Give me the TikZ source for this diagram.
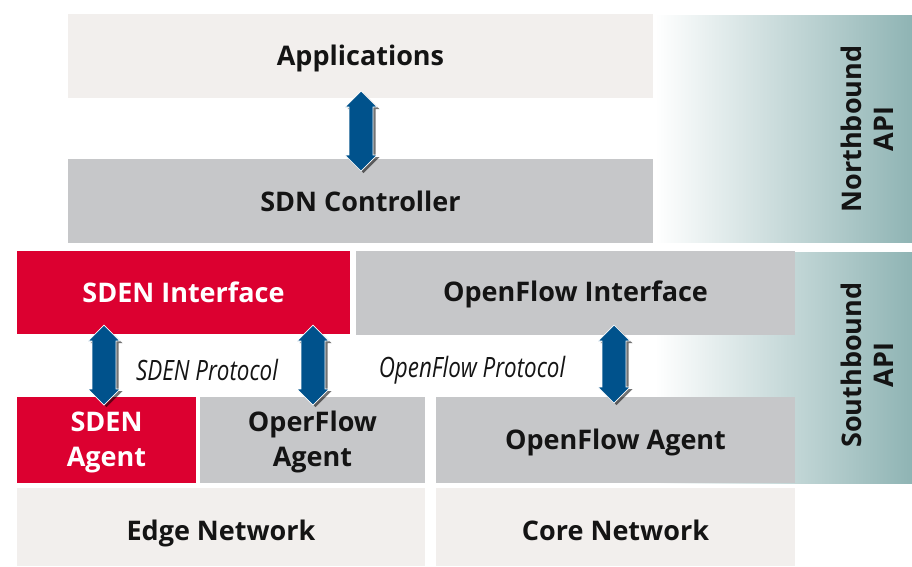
\documentclass[tikz,border=0pt]{standalone}
\usepackage{fontspec}
\setmainfont{Open Sans}
\usetikzlibrary{fit,shadows}

\definecolor{sdenred}{RGB}{220,0,48}
\definecolor{panelgray}{RGB}{198,199,201}
\definecolor{panellight}{RGB}{242,239,237}
\definecolor{apiteal}{RGB}{143,180,180}
\definecolor{arrowblue}{RGB}{0,82,140}
\definecolor{labelink}{RGB}{20,20,20}

\newcommand\layerfont{\fontsize{27}{35}\selectfont\bfseries}

\tikzset{
  layer/.style={inner sep=0pt, draw=none},
  graylayer/.style={layer, fill=panelgray},
  lightlayer/.style={layer, fill=panellight},
  redlayer/.style={layer, fill=sdenred},
  darktext/.style={font=\layerfont, text=labelink, align=center},
  lighttext/.style={font=\layerfont, text=white, align=center},
  apilabel/.style={rotate=90, align=center, font=\fontsize{27}{32}\selectfont\bfseries, text=labelink},
  protolabel/.style={font=\fontsize{28}{32}\selectfont\itshape, text=labelink},
  updown/.style={fill=arrowblue, draw=white, line width=0.7pt, line join=miter,
    drop shadow={shadow xshift=2.5pt, shadow yshift=-2pt, opacity=0.55, fill=black}},
}

% two-way block arrow centred on a named coordinate: #1 name, #2 total length
\newcommand\twoway[2]{%
  \draw[updown] (#1) ++(0,-#2/2) -- ++(16,16) -- ++(-4,0) -- ++(0,#2-32)
    -- ++(4,0) -- ++(-16,16) -- ++(-16,-16) -- ++(4,0) -- ++(0,32-#2)
    -- ++(-4,0) -- cycle;}

\begin{document}
\begin{tikzpicture}[x=1pt, y=-1pt]
  \useasboundingbox (0,0) rectangle (912,566);

  % API bands with a fading teal gradient
  \fill[left color=white, right color=apiteal] (655,15) rectangle (912,242);
  \fill[left color=white, right color=apiteal] (655,252) rectangle (912,483);
  \node[apilabel] (nbapi) at (867,129) {Northbound\\API};
  \node[apilabel] (sbapi) at (867,365) {Southbound\\API};

  % Controller stack
  \node[lightlayer, fit={(68,14) (653,98)}] (apps) {};
  \node[darktext] at ([yshift=-2pt]apps.center) {Applications};
  \node[graylayer, fit={(68,159) (653,243)}] (ctrl) {};
  \node[darktext] at (ctrl.center) {SDN Controller};

  % Southbound interfaces
  \node[redlayer, fit={(17,251) (350,334)}] (sdenif) {};
  \node[lighttext] at (sdenif.center) {SDEN Interface};
  \node[graylayer, fit={(356,251) (795,335)}] (ofif) {};
  \node[darktext] at ([yshift=-1pt]ofif.center) {OpenFlow Interface};

  % Agents
  \node[redlayer, fit={(17,397) (196,483)}] (sdenag) {};
  \node[lighttext] at ([yshift=-2pt]sdenag.center) {SDEN\\Agent};
  \node[graylayer, fit={(200,397) (425,483)}] (operag) {};
  \node[darktext] at ([yshift=-2pt]operag.center) {OperFlow\\Agent};
  \node[graylayer, fit={(436,397) (795,483)}] (ofag) {};
  \node[darktext] at ([yshift=-2pt]ofag.center) {OpenFlow Agent};

  % Networks
  \node[lightlayer, fit={(17,488) (425,566)}] (edge) {};
  \node[darktext] at ([yshift=-6pt]edge.center) {Edge Network};
  \node[lightlayer, fit={(436,488) (795,566)}] (core) {};
  \node[darktext] at ([yshift=-3pt]core.center) {Core Network};

  % Protocol labels
  \node[protolabel] (sdenproto) at (207,370) {\scalebox{0.8}[1]{SDEN Protocol}};
  \node[protolabel] (ofproto) at (472,370) {\scalebox{0.8}[1]{OpenFlow Protocol}};

  % Two-way block arrows
  \coordinate (a1) at (361,131);
  \coordinate (a2) at (104,365);
  \coordinate (a3) at (313,365);
  \coordinate (a4) at (614,364);
  \twoway{a1}{80}
  \twoway{a2}{80}
  \twoway{a3}{80}
  \twoway{a4}{78}
\end{tikzpicture}
\end{document}
